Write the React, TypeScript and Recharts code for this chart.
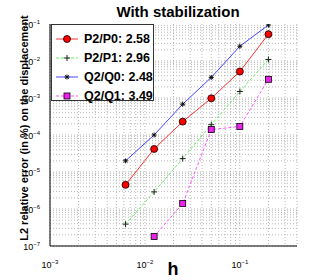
import { LineChart, Line, XAxis, YAxis, CartesianGrid, Legend } from "recharts";

// mesh sizes h = 1/160 ... 1/5
const hValues = [1 / 160, 1 / 80, 1 / 40, 1 / 20, 1 / 10, 1 / 5];
const p2p0 = [4.5e-6, 4.2e-5, 2.3e-4, 9.8e-4, 5.2e-3, 5.3e-2];
const p2p1 = [3.9e-7, 2.9e-6, 2.3e-5, 1.9e-4, 1.5e-3, 1.1e-2];
const q2q0 = [2.0e-5, 1.0e-4, 6.8e-4, 3.6e-3, 2.5e-2, 9.4e-2];
const q2q1 = [null, 1.8e-7, 1.4e-6, 1.4e-4, 1.7e-4, 3.2e-3];

const seriesNames = ["P2/P0: 2.58", "P2/P1: 2.96", "Q2/Q0: 2.48", "Q2/Q1: 3.49"];

const xTicks = [1e-3, 1e-2, 1e-1];
const yTicks = [1e-7, 1e-6, 1e-5, 1e-4, 1e-3, 1e-2, 1e-1];

const xDomain = [1e-3, 0.4];
const yDomain = [1e-7, 1e-1];

// grid lines at 1..9 x each decade, like matlab's minor grid
function minorGrid(decades: number[], max: number) {
  const out: number[] = [];
  decades.forEach((d) => {
    for (let k = 1; k <= 9; k++) {
      const v = d * k;
      if (v <= max * 1.0001) out.push(v);
    }
  });
  return out;
}
const xGrid = minorGrid(xTicks, xDomain[1]);
const yGrid = minorGrid(yTicks.slice(0, -1), yDomain[1]);

const rows = hValues.map((h, i) => ({
  h,
  p2p0: p2p0[i],
  p2p1: p2p1[i],
  q2q0: q2q0[i],
  q2q1: q2q1[i],
}));

const FONT = "'Liberation Sans', Arial, Helvetica, sans-serif";

const COLORS = {
  red: "#ff3030",
  green: "#5fef5f",
  blue: "#4646ff",
  magenta: "#ff55ff",
};

function PowerTick(props: any) {
  const { x, y, payload, axis } = props;
  const exp = Math.round(Math.log10(payload.value));
  if (axis === "x") {
    return (
      <text x={x} y={y + 14} textAnchor="middle" fontSize={9} fontFamily={FONT} fill="#000">
        <tspan>10</tspan>
        <tspan dy={-4} fontSize={6}>{"\u2212" + Math.abs(exp)}</tspan>
      </text>
    );
  }
  return (
    <text x={x - 2} y={y + 4} textAnchor="end" fontSize={9} fontFamily={FONT} fill="#000">
      <tspan>10</tspan>
      <tspan dy={-4} fontSize={6}>{"\u2212" + Math.abs(exp)}</tspan>
    </text>
  );
}

function Marker({ kind, cx, cy }: { kind: string; cx: number; cy: number }) {
  if (cx == null || cy == null) return <g />;
  if (kind === "circle")
    return <circle cx={cx} cy={cy} r={3.5} fill="#ff0000" stroke="#000" strokeWidth={0.8} />;
  if (kind === "plus")
    return (
      <g stroke="#222" strokeWidth={1}>
        <line x1={cx - 3} y1={cy} x2={cx + 3} y2={cy} />
        <line x1={cx} y1={cy - 3} x2={cx} y2={cy + 3} />
      </g>
    );
  if (kind === "star")
    return (
      <g stroke="#111" strokeWidth={1}>
        <line x1={cx - 2.5} y1={cy} x2={cx + 2.5} y2={cy} />
        <line x1={cx} y1={cy - 2.5} x2={cx} y2={cy + 2.5} />
        <line x1={cx - 1.8} y1={cy - 1.8} x2={cx + 1.8} y2={cy + 1.8} />
        <line x1={cx - 1.8} y1={cy + 1.8} x2={cx + 1.8} y2={cy - 1.8} />
      </g>
    );
  return <rect x={cx - 3} y={cy - 3} width={6} height={6} fill="#ee22ee" stroke="#000" strokeWidth={0.8} />;
}

const legendItems = [
  { name: seriesNames[0], color: COLORS.red, dash: undefined, kind: "circle" },
  { name: seriesNames[1], color: COLORS.green, dash: "3 2", kind: "plus" },
  { name: seriesNames[2], color: COLORS.blue, dash: undefined, kind: "star" },
  { name: seriesNames[3], color: COLORS.magenta, dash: "3 2", kind: "square" },
];

function LegendBox() {
  return (
    <div
      style={{
        width: 103,
        height: 77,
        border: "1px solid #333",
        background: "#fff",
        boxSizing: "border-box",
        paddingTop: 4,
      }}
    >
      {legendItems.map((it) => (
        <div key={it.name} style={{ display: "flex", alignItems: "center", height: 19 }}>
          <svg width={30} height={12} style={{ marginLeft: 2 }}>
            <line x1={2} y1={6} x2={24} y2={6} stroke={it.color} strokeWidth={1} strokeDasharray={it.dash} />
            <Marker kind={it.kind} cx={13} cy={6} />
          </svg>
          <span
            style={{
              fontFamily: FONT,
              fontWeight: "bold",
              fontSize: 12.5,
              color: "#000",
              whiteSpace: "nowrap",
            }}
          >
            {it.name}
          </span>
        </div>
      ))}
    </div>
  );
}

export default function App() {
  return (
    <div style={{ position: "absolute", left: 0, top: 0, width: 320, height: 280, background: "#fff" }}>
      <LineChart width={320} height={280} data={rows} margin={{ top: 24, right: 23, left: 0, bottom: 0 }}>
        <CartesianGrid
          stroke="#b8b8b8"
          strokeDasharray="1 2"
          horizontalValues={yGrid}
          verticalValues={xGrid}
        />
        <XAxis
          dataKey="h"
          type="number"
          scale="log"
          domain={xDomain}
          ticks={xTicks}
          interval={0}
          allowDataOverflow
          height={34}
          tickLine={false}
          axisLine={{ stroke: "#000" }}
          tick={<PowerTick axis="x" />}
        />
        <XAxis
          xAxisId="top"
          orientation="top"
          type="number"
          scale="log"
          domain={xDomain}
          allowDataOverflow
          height={0}
          tick={false}
          tickLine={false}
          axisLine={{ stroke: "#000" }}
        />
        <YAxis
          type="number"
          scale="log"
          domain={yDomain}
          ticks={yTicks}
          interval={0}
          allowDataOverflow
          width={50}
          tickLine={false}
          axisLine={{ stroke: "#000" }}
          tick={<PowerTick axis="y" />}
        />
        <YAxis
          yAxisId="right"
          orientation="right"
          type="number"
          scale="log"
          domain={yDomain}
          allowDataOverflow
          width={0}
          tick={false}
          tickLine={false}
          axisLine={{ stroke: "#000" }}
        />
        <Legend
          layout="vertical"
          align="center"
          verticalAlign="middle"
          content={() => <LegendBox />}
          wrapperStyle={{ position: "absolute", left: 51, top: 24, width: 103, height: 77 }}
        />
        <Line
          dataKey="p2p0"
          stroke={COLORS.red}
          strokeWidth={1}
          isAnimationActive={false}
          dot={(p: any) => <Marker key={"a" + p.index} kind="circle" cx={p.cx} cy={p.cy} />}
        />
        <Line
          dataKey="p2p1"
          stroke={COLORS.green}
          strokeWidth={1}
          strokeDasharray="3 2"
          isAnimationActive={false}
          dot={(p: any) => <Marker key={"b" + p.index} kind="plus" cx={p.cx} cy={p.cy} />}
        />
        <Line
          dataKey="q2q0"
          stroke={COLORS.blue}
          strokeWidth={1}
          isAnimationActive={false}
          dot={(p: any) => <Marker key={"c" + p.index} kind="star" cx={p.cx} cy={p.cy} />}
        />
        <Line
          dataKey="q2q1"
          stroke={COLORS.magenta}
          strokeWidth={1}
          strokeDasharray="3 2"
          isAnimationActive={false}
          dot={(p: any) => <Marker key={"d" + p.index} kind="square" cx={p.cx} cy={p.cy} />}
        />
        <text x={178} y={17} textAnchor="middle" fontFamily={FONT} fontWeight="bold" fontSize={15} fill="#000">
          With stabilization
        </text>
        <text
          transform="rotate(-90)"
          x={-128}
          y={28}
          textAnchor="middle"
          fontFamily={FONT}
          fontWeight="bold"
          fontSize={11}
          fill="#000"
        >
          L2 relative error (in %) on the displacement
        </text>
        <text x={173} y={275} textAnchor="middle" fontFamily={FONT} fontWeight="bold" fontSize={18} fill="#000">
          h
        </text>
      </LineChart>
    </div>
  );
}
